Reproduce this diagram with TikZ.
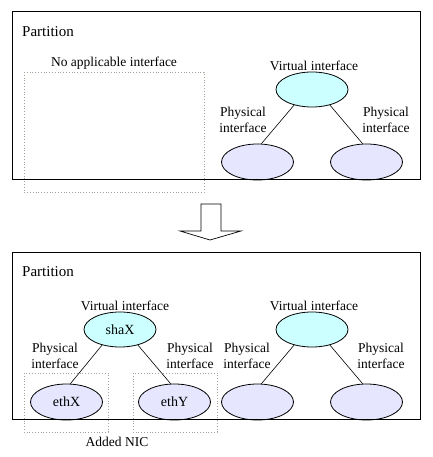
\documentclass[tikz,border=0pt]{standalone}
\usepackage{fontspec}
\setmainfont{Liberation Serif}
\usetikzlibrary{shapes.geometric}
\definecolor{virt}{RGB}{204,255,255}
\definecolor{phys}{RGB}{230,230,255}
\definecolor{dotc}{RGB}{165,160,150}
\tikzset{
  lbl/.style={font=\fontsize{13.5}{15}\selectfont, inner sep=0pt, align=center},
  plbl/.style={font=\fontsize{13.5}{16}\selectfont, inner sep=0pt, align=center},
  ptn/.style={font=\fontsize{15}{17}\selectfont, inner sep=0pt, anchor=west},
  virtnode/.style={ellipse, draw=black, fill=virt, line width=0.8pt, minimum width=72pt, minimum height=35pt, inner sep=0pt, font=\fontsize{14}{16}\selectfont},
  physnode/.style={ellipse, draw=black, fill=phys, line width=0.8pt, minimum width=72pt, minimum height=36pt, inner sep=0pt, font=\fontsize{14}{16}\selectfont},
  dotbox/.style={draw=dotc, dotted, line width=0.8pt},
  framebox/.style={draw=black, line width=1pt},
  conn/.style={draw=black, line width=0.6pt}
}
\begin{document}
\begin{tikzpicture}[x=1pt,y=-1pt]
\useasboundingbox (0,0) rectangle (432,457);
% ---------- top ----------
\draw[framebox] (12,12) rectangle (420,179);
\node[ptn] (p1) at (22,32) {Partition};
\draw[dotbox] (24,72) rectangle (204,192);
\node[lbl] (na) at (114,63) {No applicable interface};
\node[lbl] (v1l) at (314,66) {Virtual interface};
\node[physnode] (a1) at (257.5,162) {};
\node[physnode] (a2) at (366.5,162) {};
\node[virtnode] (v1) at (312,89.5) {};
\draw[conn] (v1.221) -- (a1.78);
\draw[conn] (v1.319) -- (a2.102);
\node[plbl] (pl1) at (243,120) {Physical\\interface};
\node[plbl] (pr1) at (386,120) {Physical\\interface};
% redraw frame bottom over ellipses
\draw[framebox] (12,179) -- (420,179);
% ---------- arrow ----------
\draw[black, line width=0.7pt, fill=white] (201,204) -- (221,204) -- (221,231) -- (241,231) -- (210,240) -- (180,231) -- (201,231) -- cycle;
% ---------- bottom ----------
\draw[framebox] (12,252) rectangle (420,419);
\node[ptn] (p2) at (22,272) {Partition};
\node[lbl] (v2l) at (125,306) {Virtual interface};
\node[lbl] (v3l) at (314,306) {Virtual interface};
\node[virtnode] (s) at (120,329.5) {shaX};
\node[physnode] (ex) at (66.5,402) {ethX};
\node[physnode] (ey) at (174.5,402) {ethY};
\node[virtnode] (v3) at (312,329.5) {};
\node[physnode] (b1) at (257.5,402) {};
\node[physnode] (b2) at (366.5,402) {};
\draw[conn] (s.221) -- (ex.78);
\draw[conn] (s.319) -- (ey.102);
\draw[conn] (v3.221) -- (b1.78);
\draw[conn] (v3.319) -- (b2.102);
\node[plbl] (q1) at (55,356) {Physical\\interface};
\node[plbl] (q2) at (190,356) {Physical\\interface};
\node[plbl] (q3) at (247,356) {Physical\\interface};
\node[plbl] (q4) at (381,356) {Physical\\interface};
\draw[framebox] (12,419) -- (420,419);
\draw[dotbox] (24,373) rectangle (108,432);
\draw[dotbox] (133,373) rectangle (217,432);
\node[lbl] (nic) at (117,442) {Added NIC};
\end{tikzpicture}
\end{document}
